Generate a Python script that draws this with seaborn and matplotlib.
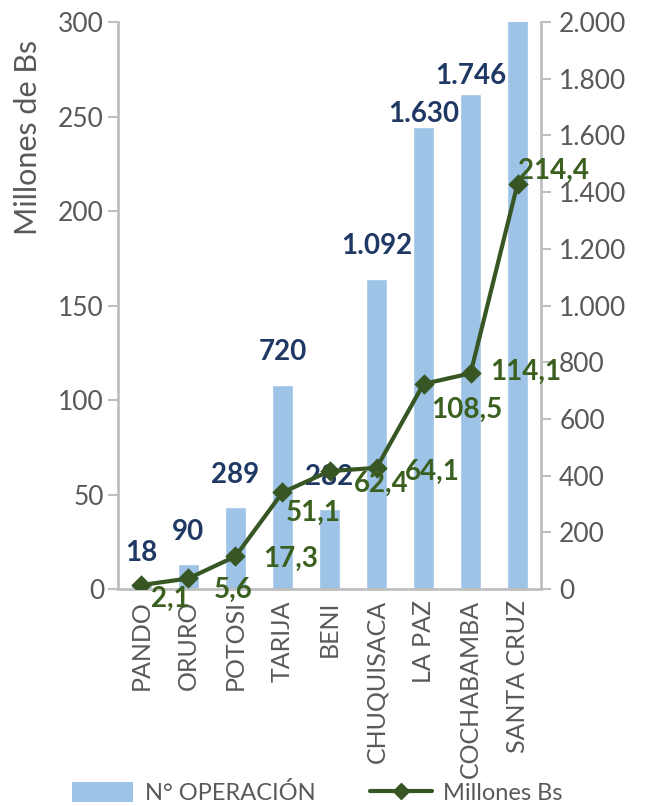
import matplotlib
matplotlib.use("Agg")
import matplotlib.pyplot as plt
from matplotlib.ticker import FuncFormatter, MultipleLocator
from matplotlib.lines import Line2D
from matplotlib.patches import Patch
import seaborn as sns
import pandas as pd

departamentos = ["PANDO", "ORURO", "POTOSI", "TARIJA", "BENI", "CHUQUISACA",
                 "LA PAZ", "COCHABAMBA", "SANTA CRUZ"]
n_operacion = [18, 90, 289, 720, 282, 1092, 1630, 1746, 2400]
millones_bs = [2.1, 5.6, 17.3, 51.1, 62.4, 64.1, 108.5, 114.1, 214.4]

# label offsets (points) as placed in the reference
bar_label_offsets = [22, 23, 23, 24, 23, 24, 9.5, 13, 20]
line_label_offsets = [(21, -10), (32, -8), (40, -2), (22, -15), (37, -9),
                      (40, -3), (31, -19), (40, 1), (26, 9)]

sns.set_style("white")
plt.rcParams["font.family"] = ["Lato", "DejaVu Sans"]

BAR = "#9DC3E6"
LINE = "#375623"
NAVY = "#1F3864"
GREEN = "#3A5F1E"
GRAY = "#595959"
AXC = "#BFBFBF"

df = pd.DataFrame({"dep": departamentos, "ops": n_operacion, "mill": millones_bs})

fig = plt.figure(figsize=(6.48, 8.06), dpi=100)
ax = fig.add_axes([0.182, 0.2692, 0.653, 0.7035])
sns.barplot(data=df, x="dep", y="ops", ax=ax, color=BAR, width=0.46,
            saturation=1)
ax.set_ylim(0, 2000)
ax.set_xlim(-0.5, 8.5)

ax2 = ax.twinx()
sns.pointplot(data=df, x="dep", y="mill", ax=ax2, color=LINE, markers="D",
              markersize=8, linewidth=3)
ax2.set_ylim(0, 300)
ax2.set_xlim(-0.5, 8.5)

# bars -> right axis, line -> left axis
ax.yaxis.tick_right()
ax.yaxis.set_label_position("right")
ax2.yaxis.tick_left()
ax2.yaxis.set_label_position("left")

ax.yaxis.set_major_locator(MultipleLocator(200))
ax.yaxis.set_major_formatter(FuncFormatter(lambda v, p: f"{int(v):,}".replace(",", ".")))
ax2.yaxis.set_major_locator(MultipleLocator(50))

for a in (ax, ax2):
    for s in a.spines.values():
        s.set_visible(False)
    a.set_xlabel("")
    a.set_ylabel("")

ax.spines["right"].set_visible(True)
ax.spines["bottom"].set_visible(True)
ax2.spines["left"].set_visible(True)
for s in (ax.spines["right"], ax.spines["bottom"], ax2.spines["left"]):
    s.set_color(AXC)
    s.set_linewidth(2)

ax.tick_params(axis="y", which="major", right=True, left=False, length=7,
               width=1.5, color=AXC, labelsize=19, labelcolor=GRAY, pad=6)
ax2.tick_params(axis="y", which="major", left=True, right=False, length=7,
                width=1.5, color=AXC, labelsize=19, labelcolor=GRAY, pad=3)
ax2.tick_params(axis="x", bottom=False, labelbottom=False)

ax.set_xticks(range(len(departamentos)))
ax.set_xticklabels(departamentos, rotation=90, fontsize=18, color=GRAY)
ax.tick_params(axis="x", which="major", length=0, pad=8)
ax.set_xticks([i - 0.5 for i in range(len(departamentos) + 1)], minor=True)
ax.tick_params(axis="x", which="minor", length=7, width=1.5, color=AXC)

ax2.set_ylabel("Millones de Bs", fontsize=22, color=GRAY)
ax2.yaxis.set_label_coords(-0.18, 0.797)

# bar labels
for i, (v, off) in enumerate(zip(n_operacion, bar_label_offsets)):
    if v <= 2000:
        ax.annotate(f"{v:,}".replace(",", "."), (i, v), xytext=(0, off),
                    textcoords="offset points", ha="center", va="center",
                    fontsize=20, fontweight="bold", color=NAVY)

# line labels
for i, (v, off) in enumerate(zip(millones_bs, line_label_offsets)):
    ax2.annotate(f"{v:.1f}".replace(".", ","), (i, v), xytext=off,
                 textcoords="offset points", ha="center", va="center",
                 fontsize=20, fontweight="bold", color=GREEN,
                 annotation_clip=False)

handles = [Patch(facecolor=BAR, edgecolor="none", label="N° OPERACIÓN"),
           Line2D([0], [0], color=LINE, lw=3, marker="D", markersize=8,
                  label="Millones Bs")]
fig.legend(handles=handles, loc="center", bbox_to_anchor=(0.49, 0.016),
           ncol=2, frameon=False, fontsize=17, labelcolor=GRAY,
           handlelength=2.6, handleheight=0.9, columnspacing=2.3,
           handletextpad=0.5, borderpad=0.1)

fig.savefig("out.png", dpi=100)
